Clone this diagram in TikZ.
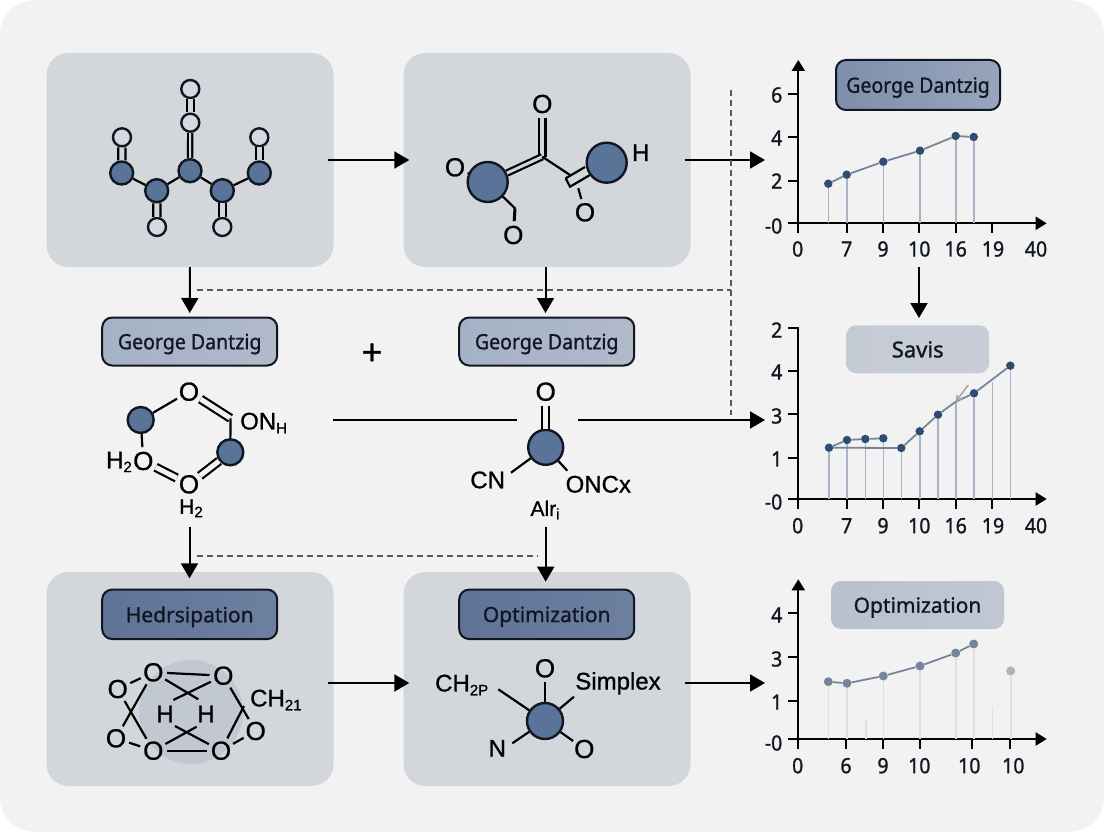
\documentclass[tikz,border=0pt]{standalone}
\usepackage{fontspec}
\setmainfont{Liberation Sans}[FakeBold=0.9]
\newfontfamily\tagfont{Noto Sans}[FakeBold=1.1,FakeStretch=0.93]
\newfontfamily\widefont{Noto Sans}[FakeBold=1.1]
\usetikzlibrary{arrows.meta}
\definecolor{pagecol}{HTML}{F2F2F3}
\definecolor{panelcol}{HTML}{D3D7DC}
\definecolor{inkcol}{HTML}{111722}
\definecolor{atomcol}{HTML}{5A7398}
\definecolor{opencol}{HTML}{D6DAE0}
\definecolor{halocol}{HTML}{C2C8D2}
\definecolor{stemcol}{HTML}{A9B4C6}
\definecolor{trendcol}{HTML}{76859C}
\definecolor{dotcol}{HTML}{2F4D74}
\definecolor{tagAl}{HTML}{A5B1C5}
\definecolor{tagAr}{HTML}{B0BACB}
\definecolor{tagCl}{HTML}{5F7397}
\definecolor{tagCr}{HTML}{6E80A0}
\definecolor{tagEl}{HTML}{7E8FAB}
\definecolor{tagEr}{HTML}{98A5BC}
\definecolor{tagFl}{HTML}{C5CBD5}
\definecolor{tagFr}{HTML}{C8CDD7}
\definecolor{tagGl}{HTML}{B9C1CE}
\definecolor{tagGr}{HTML}{C1C7D2}
\newcommand{\lowtxt}[1]{\raisebox{-0.3ex}{\fontsize{15}{15}\selectfont #1}}
\tikzset{
  panel/.style={fill=panelcol,rounded corners=22pt,minimum width=287pt,minimum height=214pt,inner sep=0pt},
  tagbox/.style={draw=inkcol,line width=2pt,rounded corners=10pt,minimum width=175pt,minimum height=48pt,inner sep=0pt,text=inkcol,text depth=0pt,font=\tagfont\fontsize{21}{24}\selectfont},
  tagwide/.style={font=\widefont\fontsize{21}{24}\selectfont},
  taglight/.style={tagbox,left color=tagAl,right color=tagAr},
  tagdark/.style={tagbox,tagwide,left color=tagCl,right color=tagCr},
  tagflat/.style={tagbox,tagwide,draw=none},
  atom/.style={circle,draw=inkcol,fill=atomcol,line width=2.4pt,inner sep=0pt,minimum size=#1},
  openatom/.style={circle,draw=inkcol,fill=opencol,line width=2.4pt,inner sep=0pt,minimum size=18pt},
  chem/.style={circle,inner sep=0pt,text=black,font=\fontsize{26}{26}\selectfont},
  chemlab/.style={inner sep=0pt,text=black,font=\fontsize{24}{24}\selectfont},
  bond/.style={draw=black,line width=2.2pt},
  dbond/.style={draw=black,line width=2.2pt,double=panelcol,double distance=#1},
  dbond/.default=5pt,
  dbondout/.style={dbond=5pt,double=pagecol},
  flowarrow/.style={draw=black,line width=2pt,-{Triangle[length=15pt,width=17pt]}},
  flowline/.style={draw=black,line width=2pt},
  dashline/.style={draw=black!65,line width=1.5pt,dash pattern=on 6pt off 4pt},
  axline/.style={draw=black,line width=2pt},
  axarrow/.style={draw=black,line width=2pt,-{Triangle[length=11pt,width=13pt]}},
  axlab/.style={inner sep=0pt,text=inkcol,font=\tagfont\fontsize{21}{24}\selectfont},
  ylab/.style={axlab,anchor=east},
  stem/.style={draw=stemcol,line width=1.6pt},
  palestem/.style={draw=black!12,line width=1.6pt},
  trend/.style={draw=trendcol,line width=1.8pt},
  dot/.style={circle,fill=dotcol,inner sep=0pt,minimum size=8.5pt},
  softdot/.style={circle,fill=trendcol,inner sep=0pt,minimum size=9pt}
}
\begin{document}
\begin{tikzpicture}[x=1pt,y=-1pt]
\useasboundingbox (0,0) rectangle (1104,832);
\fill[white] (0,0) rectangle (1104,832);
\fill[pagecol,rounded corners=35pt] (0,0) rectangle (1104,832);
\node[panel] (panelA) at (190,160) {};
\node[panel] (panelB) at (547,160) {};
\node[panel] (panelC) at (190,679) {};
\node[panel] (panelD) at (547,679) {};
\node[taglight] (tagA) at (189.7,341.5) {George Dantzig};
\node[taglight] (tagB) at (546.7,341.5) {George Dantzig};
\node[tagdark,minimum height=49.5pt] (tagC) at (189.7,614.3) {Hedrsipation};
\node[tagdark,minimum height=49.5pt] (tagD) at (546.7,614.3) {Optimization};
\node[inner sep=0pt,font=\fontsize{36}{36}\selectfont] (plus) at (372,354) {+};
\coordinate (chartinA) at (765,160);
\coordinate (chartinB) at (765,420);
\coordinate (chartinC) at (765,683);
\coordinate (lineAs) at (333,420);
\coordinate (lineAe) at (517,420);
\coordinate (lineBs) at (578,420);
\coordinate (downB) at (545.5,313);
\coordinate (downCs) at (189.5,526.7);
\coordinate (downCe) at (189.5,578.3);
\coordinate (downDs) at (545.7,526.7);
\coordinate (downDe) at (545.7,581.7);
\coordinate (downEs) at (919,267);
\coordinate (downEe) at (919,318);
\draw[flowarrow,shorten <=-6pt,shorten >=-6pt] (panelA) -- (panelB);
\draw[flowarrow,shorten <=-6pt] (panelB) -- (chartinA);
\draw[flowarrow,shorten <=-6pt,shorten >=-6pt] (panelC.east |- chartinC) -- (panelD.west |- chartinC);
\draw[flowarrow,shorten <=-6pt] (panelD.east |- chartinC) -- (chartinC);
\draw[flowarrow,shorten >=3.5pt] (panelA) -- (tagA);
\draw[flowarrow] (panelB.south -| downB) -- (downB);
\draw[flowarrow] (downCs) -- (downCe);
\draw[flowarrow] (downDs) -- (downDe);
\draw[flowarrow] (downEs) -- (downEe);
\draw[flowline] (lineAs) -- (lineAe);
\draw[flowarrow] (lineBs) -- (chartinB);
\coordinate (dashAs) at (197,290);
\coordinate (dashAe) at (731,290);
\coordinate (dashBs) at (731,90);
\coordinate (dashBe) at (731,415);
\coordinate (dashCs) at (197,556);
\coordinate (dashCe) at (538,556);
\draw[dashline] (dashAs) -- (dashAe);
\draw[dashline] (dashBs) -- (dashBe);
\draw[dashline] (dashCs) -- (dashCe);
\node[atom=23pt] (ma1) at (121.7,173) {};
\node[atom=23pt] (ma2) at (156.7,190.7) {};
\node[atom=23pt] (ma3) at (190,170.7) {};
\node[atom=23pt] (ma4) at (222.3,190.7) {};
\node[atom=23pt] (ma5) at (259.3,173) {};
\node[openatom] (mo1) at (122,137.3) {};
\node[openatom] (mo2) at (190.3,89) {};
\node[openatom] (mo3) at (190.3,122.7) {};
\node[openatom] (mo4) at (259.3,137.3) {};
\node[openatom] (mo5) at (157,227) {};
\node[openatom] (mo6) at (222.3,227) {};
\draw[bond] (ma1) -- (ma2);
\draw[bond] (ma2) -- (ma3);
\draw[bond] (ma3) -- (ma4);
\draw[bond] (ma4) -- (ma5);
\draw[dbond] (mo1) -- (ma1);
\draw[dbond] (mo2) -- (mo3);
\draw[dbond=2pt] (mo3) -- (ma3);
\draw[dbond] (mo4) -- (ma5);
\draw[dbond] (ma2) -- (mo5);
\draw[dbond] (ma4) -- (mo6);
\node[atom=40pt] (na1) at (487.7,182) {};
\node[atom=40pt] (na2) at (606.7,162.7) {};
\node[chem] (no1) at (542.3,104) {O};
\node[chem] (no2) at (455,167.3) {O};
\node[chem] (no3) at (513.3,235) {O};
\node[chem] (no4) at (585,212.3) {O};
\node[chemlab] (nh) at (640.7,152.7) {H};
\coordinate (nk1) at (542.3,156.7);
\coordinate (nk2) at (570,175);
\coordinate (nk3) at (515,208.3);
\coordinate (nk4) at (578.3,188.3);
\draw[dbond=4pt] (no1) -- (nk1);
\draw[dbond=3pt] (na1) -- (nk1);
\draw[bond] (nk1) -- (nk2);
\draw[bond] (565.7,178.3) -- (570,186.7) -- (590,175);
\draw[bond] (565.7,178.3) -- (585,167);
\draw[bond] (nk4) -- (no4);
\draw[bond] (na1) -- (nk3);
\draw[bond,line width=3pt] (nk3) -- (no3);
\draw[bond] (no2) -- (na1);
\node[atom=26pt] (pa1) at (140.7,420) {};
\node[atom=26pt] (pa2) at (230.3,452.3) {};
\node[chem] (po1) at (189,391.7) {O};
\node[chem] (po2) at (143.3,461) {O};
\node[chem] (po3) at (189,484.3) {O};
\node[chemlab,anchor=east] (ph1) at (132,462) {H\lowtxt{2}};
\node[chemlab,font=\fontsize{21}{21}\selectfont] (ph2) at (191,508.3) {H\lowtxt{2}};
\node[chemlab,anchor=west] (pn) at (240,423) {ON\lowtxt{H}};
\coordinate (pk1) at (230.5,418.3);
\draw[bond] (pa1) -- (po1);
\draw[dbondout] (po1) -- (pk1);
\draw[bond] (pk1) -- (pa2);
\draw[dbondout] (pa2) -- (po3);
\draw[dbondout] (po2) -- (po3);
\draw[bond] (pa1) -- (po2);
\node[atom=35pt] (qa1) at (545.7,447.3) {};
\node[chem] (qo1) at (545.7,391.7) {O};
\node[chemlab] (qc) at (487.7,480) {CN};
\node[chemlab] (qn) at (598.3,484.3) {ONCx};
\node[chemlab,font=\fontsize{21}{21}\selectfont] (qa) at (545,510) {Alr\lowtxt{i}};
\coordinate (qk1) at (511,472.7);
\coordinate (qk2) at (567.3,470.7);
\draw[dbondout] (qo1) -- (qa1);
\draw[bond] (qa1) -- (qk1);
\draw[bond] (qa1) -- (qk2);
\fill[halocol] (191,712) circle (52);
\node[chem] (co1) at (153.3,672.3) {O};
\node[chem] (co2) at (223.3,675.7) {O};
\node[chem] (co3) at (117.7,689) {O};
\node[chem] (co4) at (116,738.3) {O};
\node[chem] (co5) at (153.3,750.7) {O};
\node[chem] (co6) at (221,750.7) {O};
\node[chem] (co7) at (255.7,731) {O};
\node[chemlab] (ch1) at (165,714) {H};
\node[chemlab] (ch2) at (206,714) {H};
\node[chemlab,anchor=west] (cl) at (250,700) {CH\lowtxt{21}};
\coordinate (cj1) at (198.3,699.3);
\coordinate (cj2) at (173.3,700);
\coordinate (cj3) at (175,726);
\coordinate (cj4) at (196.7,726.7);
\coordinate (cj5) at (244,706);
\draw[bond] (co1) -- (co2);
\draw[bond] (co5) -- (co6);
\draw[bond] (co1) -- (cj1);
\draw[bond] (co2) -- (cj2);
\draw[bond] (co6) -- (cj3);
\draw[bond] (co5) -- (cj4);
\draw[bond] (co1) -- (co4);
\draw[bond] (co3) -- (co5);
\draw[bond] (co3) -- (co1);
\draw[bond] (co4) -- (co5);
\draw[bond] (co2) -- (co7);
\draw[bond] (co6) -- (cj5);
\draw[bond] (co6) -- (co7);
\node[atom=36pt] (da1) at (545,721) {};
\node[chem] (do1) at (545,668.3) {O};
\node[chem] (do2) at (584.3,749) {O};
\node[chemlab,anchor=west] (dl) at (435,685) {CH\lowtxt{2P}};
\node[chemlab] (ds) at (618,683.3) {Simplex};
\node[chemlab] (dn) at (497.3,748.3) {N};
\coordinate (dk1) at (498.3,689.3);
\coordinate (dk2) at (574,696.7);
\coordinate (dk3) at (512.3,743.3);
\draw[bond] (do1) -- (da1);
\draw[bond] (da1) -- (dk1);
\draw[bond] (da1) -- (dk2);
\draw[bond] (da1) -- (dk3);
\draw[bond] (da1) -- (do2);
\coordinate (axA) at (798.3,223.3);
\draw[axarrow] (798.3,233) -- (798.3,60);
\draw[axarrow] (788,223.3) -- (1046.7,223.3);
\draw[axline] (788,94) -- (798.3,94);
\draw[axline] (788,137.3) -- (798.3,137.3);
\draw[axline] (788,180.7) -- (798.3,180.7);
\draw[axline] (847,223.3) -- (847,233);
\draw[axline] (883.3,223.3) -- (883.3,233);
\draw[axline] (919.3,223.3) -- (919.3,233);
\draw[axline] (955.7,223.3) -- (955.7,233);
\draw[axline] (992.3,223.3) -- (992.3,233);
\node[ylab] (ayA) at (782.5,95) {6};
\node[ylab] (ayB) at (782.5,138) {4};
\node[ylab] (ayC) at (782.5,181) {2};
\node[ylab] (ayD) at (782.5,226) {-0};
\node[axlab] (axa) at (797.7,249) {0};
\node[axlab] (axb) at (846.7,249) {7};
\node[axlab] (axc) at (883,249) {9};
\node[axlab] (axd) at (919.3,249) {10};
\node[axlab] (axe) at (955.7,249) {16};
\node[axlab] (axf) at (993,249) {19};
\node[axlab] (axg) at (1036,249) {40};
\node[dot] (ua) at (828.3,183.7) {};
\node[dot] (ub) at (846.7,174.7) {};
\node[dot] (uc) at (883.3,161.7) {};
\node[dot] (ud) at (920,150.7) {};
\node[dot] (ue) at (955.7,136) {};
\node[dot] (uf) at (973.7,137) {};
\draw[stem] (ua) -- (ua |- axA);
\draw[stem] (ub) -- (ub |- axA);
\draw[stem] (uc) -- (uc |- axA);
\draw[stem] (ud) -- (ud |- axA);
\draw[stem] (ue) -- (ue |- axA);
\draw[stem] (uf) -- (uf |- axA);
\draw[trend] (ua) -- (ub);
\draw[trend] (ub) -- (uc);
\draw[trend] (uc) -- (ud);
\draw[trend] (ud) -- (ue);
\draw[trend] (ue) -- (uf);
\node[tagbox,left color=tagEl,right color=tagEr,minimum width=164pt,minimum height=50pt] (tagE) at (918,85) {George Dantzig};
\coordinate (axB) at (798.3,499);
\draw[axline] (788,328.3) -- (798.3,328.3) -- (798.3,509);
\draw[axarrow] (788,499) -- (1046.7,499);
\draw[axline] (788,371) -- (798.3,371);
\draw[axline] (788,414.3) -- (798.3,414.3);
\draw[axline] (788,457.7) -- (798.3,457.7);
\draw[axline] (847,499) -- (847,509);
\draw[axline] (883.3,499) -- (883.3,509);
\draw[axline] (919.3,499) -- (919.3,509);
\draw[axline] (955.7,499) -- (955.7,509);
\draw[axline] (992.3,499) -- (992.3,509);
\node[ylab] (byA) at (782.5,330) {2};
\node[ylab] (byB) at (782.5,372) {4};
\node[ylab] (byC) at (782.5,416) {3};
\node[ylab] (byD) at (782.5,459) {1};
\node[ylab] (byE) at (782.5,502) {-0};
\node[axlab] (bxa) at (797.7,525.7) {0};
\node[axlab] (bxb) at (846.7,525.7) {7};
\node[axlab] (bxc) at (883,525.7) {9};
\node[axlab] (bxd) at (919.3,525.7) {10};
\node[axlab] (bxe) at (955.7,525.7) {16};
\node[axlab] (bxf) at (993,525.7) {19};
\node[axlab] (bxg) at (1036,525.7) {40};
\node[dot] (va) at (829,447.7) {};
\node[dot] (vb) at (847,440) {};
\node[dot] (vc) at (865.3,439) {};
\node[dot] (vd) at (883.3,438.3) {};
\node[dot] (ve) at (901.3,448) {};
\node[dot] (vf) at (919.7,431.3) {};
\node[dot] (vg) at (938,414.7) {};
\node[dot] (vh) at (974,393.3) {};
\node[dot] (vi) at (1010.3,365.7) {};
\coordinate (vk) at (955.7,401.7);
\coordinate (vl) at (992.3,381.7);
\coordinate (vm) at (968.3,385);
\draw[stem] (va) -- (va |- axB);
\draw[stem] (vb) -- (vb |- axB);
\draw[stem] (vc) -- (vc |- axB);
\draw[stem] (vd) -- (vd |- axB);
\draw[stem] (ve) -- (ve |- axB);
\draw[stem] (vf) -- (vf |- axB);
\draw[stem] (vg) -- (vg |- axB);
\draw[stem] (vk) -- (vk |- axB);
\draw[stem] (vh) -- (vh |- axB);
\draw[stem] (vl) -- (vl |- axB);
\draw[stem] (vi) -- (vi |- axB);
\draw[trend] (va) -- (vb);
\draw[trend] (vb) -- (vc);
\draw[trend] (vc) -- (vd);
\draw[trend] (va) -- (ve);
\draw[trend] (ve) -- (vf);
\draw[trend] (vf) -- (vg);
\draw[trend] (vg) -- (vk);
\draw[trend] (vk) -- (vh);
\draw[trend] (vh) -- (vi);
\draw[draw=black!35,line width=1.5pt,-{Straight Barb[length=5pt,width=6pt]}] (vm) -- (vk);
\node[tagflat,left color=tagFl,right color=tagFr,minimum width=143pt,minimum height=48pt,font=\widefont\fontsize{22}{24}\selectfont] (tagF) at (917.7,349.3) {Savis};
\coordinate (axC) at (798.3,739);
\draw[axarrow] (798.3,749) -- (798.3,579.3);
\draw[axarrow] (788,739) -- (1046.7,739);
\draw[axline] (788,613.3) -- (798.3,613.3);
\draw[axline] (788,656.7) -- (798.3,656.7);
\draw[axline] (788,700.7) -- (798.3,700.7);
\draw[axline] (846.3,739) -- (846.3,749);
\draw[axline] (883.3,739) -- (883.3,749);
\draw[axline] (920,739) -- (920,749);
\draw[axline] (972,739) -- (972,749);
\draw[axline] (1010,739) -- (1010,749);
\node[ylab] (cyA) at (782.5,615) {4};
\node[ylab] (cyB) at (782.5,659) {3};
\node[ylab] (cyC) at (782.5,702) {1};
\node[ylab] (cyD) at (782.5,743) {-0};
\node[axlab] (cxa) at (797.7,765.7) {0};
\node[axlab] (cxb) at (846,765.7) {6};
\node[axlab] (cxc) at (883,765.7) {9};
\node[axlab] (cxd) at (919.3,765.7) {10};
\node[axlab] (cxe) at (969.3,765.7) {10};
\node[axlab] (cxf) at (1013.3,765.7) {10};
\node[softdot] (wa) at (828.3,681.7) {};
\node[softdot] (wb) at (847,683.3) {};
\node[softdot] (wc) at (883.3,676) {};
\node[softdot] (wd) at (920,666) {};
\node[softdot] (we) at (955.7,653) {};
\node[softdot] (wf) at (973.7,644) {};
\node[softdot,fill=black!30] (wg) at (1010.7,671) {};
\coordinate (wh) at (865.7,720);
\coordinate (wi) at (992.3,706);
\draw[palestem] (wa) -- (wa |- axC);
\draw[palestem] (wb) -- (wb |- axC);
\draw[palestem] (wh) -- (wh |- axC);
\draw[palestem] (wc) -- (wc |- axC);
\draw[palestem] (wd) -- (wd |- axC);
\draw[palestem] (we) -- (we |- axC);
\draw[palestem] (wf) -- (wf |- axC);
\draw[palestem] (wi) -- (wi |- axC);
\draw[palestem] (wg) -- (wg |- axC);
\draw[trend] (wa) -- (wb);
\draw[trend] (wb) -- (wc);
\draw[trend] (wc) -- (wd);
\draw[trend] (wd) -- (we);
\draw[trend] (we) -- (wf);
\node[tagflat,left color=tagGl,right color=tagGr,minimum width=173pt,minimum height=48pt] (tagG) at (917.5,605) {Optimization};
\end{tikzpicture}
\end{document}
